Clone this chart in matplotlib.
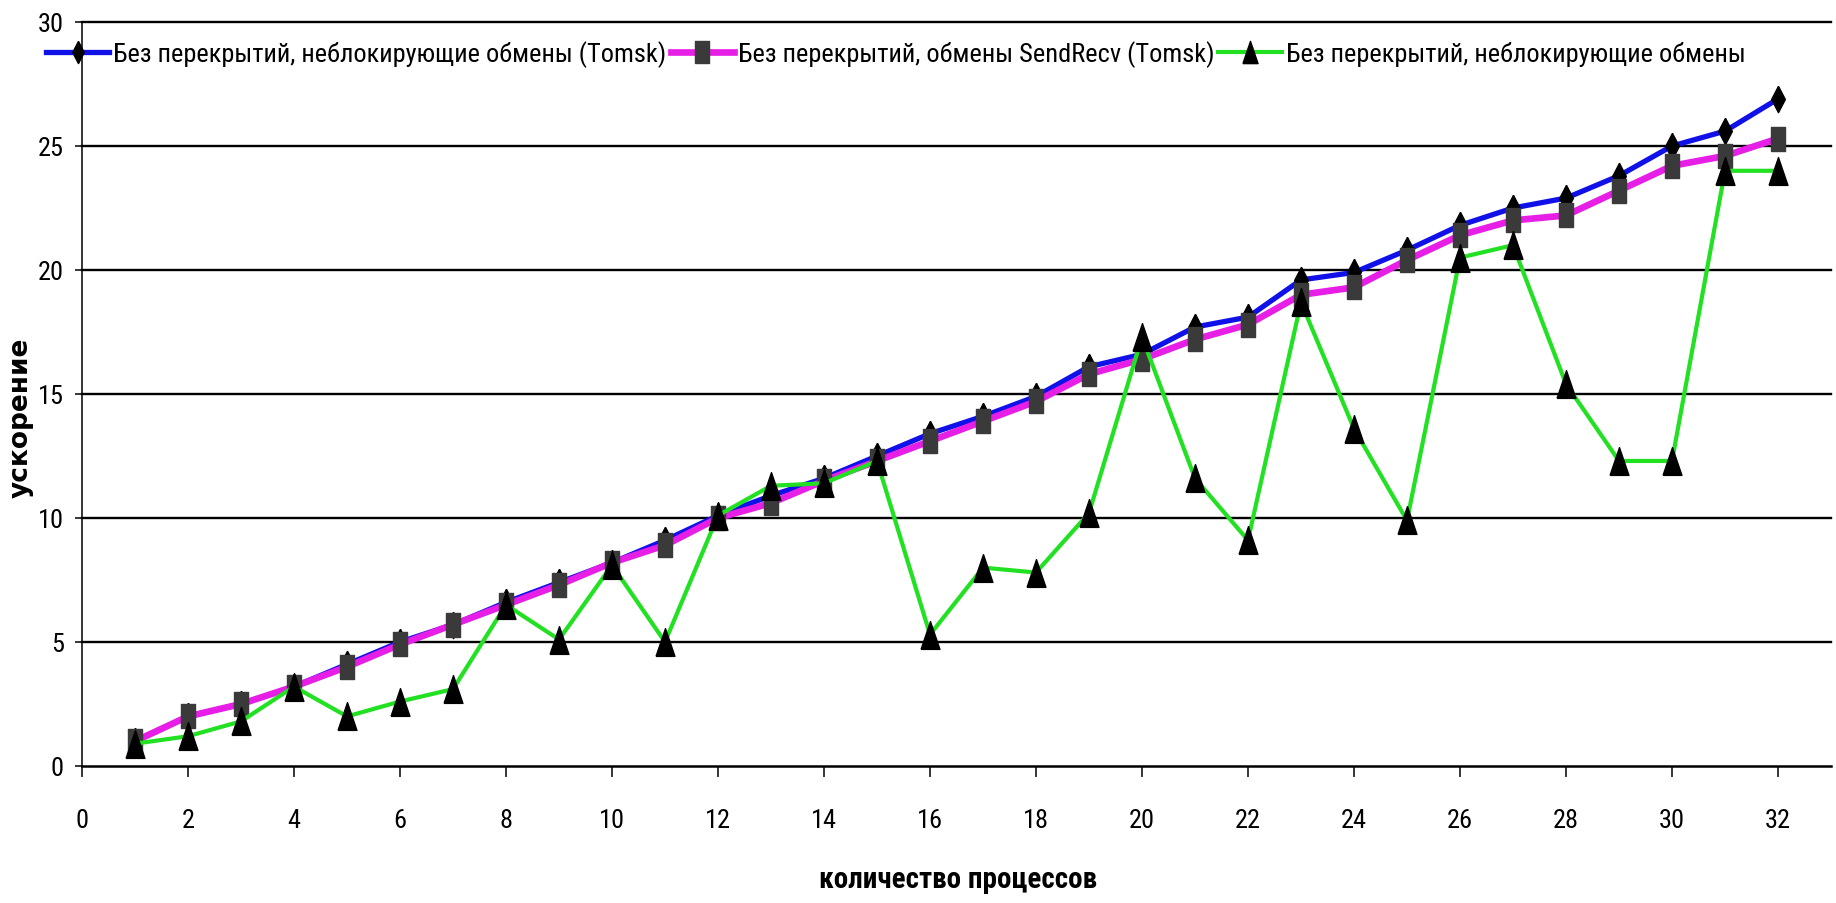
import matplotlib
matplotlib.use("Agg")
from matplotlib import pyplot as plt
from matplotlib import font_manager

# узкий шрифт, если есть; иначе Liberation Sans (метрики Arial)
installed = {f.name for f in font_manager.fontManager.ttflist}
narrow = next((n for n in ['Liberation Sans Narrow', 'Roboto Condensed',
                           'Open Sans Condensed', 'DejaVu Sans Condensed',
                           'Liberation Sans'] if n in installed), 'DejaVu Sans')
NARROW = [narrow, 'DejaVu Sans']
is_narrow = narrow != 'Liberation Sans' and narrow != 'DejaVu Sans'

# количество процессов
procs = list(range(1, 33))

# Без перекрытий, неблокирующие обмены (Tomsk)
nonblock_tomsk = [1.0, 2.0, 2.5, 3.2, 4.1, 5.0, 5.7, 6.6, 7.4, 8.2,
                  9.1, 10.1, 10.9, 11.6, 12.5, 13.4, 14.1, 14.9, 16.1, 16.6,
                  17.7, 18.1, 19.6, 19.9, 20.8, 21.8, 22.5, 22.9, 23.8, 25.0,
                  25.6, 26.9]

# Без перекрытий, обмены SendRecv (Tomsk)
sendrecv_tomsk = [1.0, 2.0, 2.5, 3.2, 4.0, 4.9, 5.7, 6.5, 7.3, 8.2,
                  8.9, 10.0, 10.6, 11.5, 12.3, 13.1, 13.9, 14.7, 15.8, 16.4,
                  17.2, 17.8, 19.0, 19.3, 20.4, 21.4, 22.0, 22.2, 23.2, 24.2,
                  24.6, 25.3]

# Без перекрытий, неблокирующие обмены
nonblock = [0.9, 1.2, 1.8, 3.2, 2.0, 2.6, 3.1, 6.5, 5.1, 8.1,
            5.0, 10.1, 11.3, 11.4, 12.3, 5.3, 8.0, 7.8, 10.2, 17.3,
            11.6, 9.1, 18.7, 13.6, 9.9, 20.5, 21.0, 15.4, 12.3, 12.3,
            24.0, 24.0]

labels = ["Без перекрытий, неблокирующие обмены (Tomsk)",
          "Без перекрытий, обмены SendRecv (Tomsk)",
          "Без перекрытий, неблокирующие обмены"]

x_ticks = list(range(0, 33, 2))
y_ticks = list(range(0, 31, 5))

# вытянутые маркеры как в Excel
diamond = [(0, 0.5), (0.26, 0), (0, -0.5), (-0.26, 0), (0, 0.5)]
rect = [(-0.3, -0.5), (0.3, -0.5), (0.3, 0.5), (-0.3, 0.5), (-0.3, -0.5)]
tri = [(-0.34, -0.5), (0.34, -0.5), (0, 0.5), (-0.34, -0.5)]

tick_fs = 19 if is_narrow else 16
leg_fs = 19 if is_narrow else 16
xlab_fs = 21 if is_narrow else 18

W, H = 1836, 904
fig = plt.figure(figsize=(W / 100, H / 100), dpi=100)
ax = fig.add_axes([82 / W, 137 / H, 1749 / W, 744 / H])

for y in y_ticks[1:]:
    ax.axhline(y, color='black', lw=1.7, zorder=0, clip_on=False)

ax.plot(procs, nonblock_tomsk, color='#1010e8', lw=3.8, marker=diamond,
        markersize=19, markerfacecolor='black', markeredgecolor='black',
        label=labels[0], zorder=2)
ax.plot(procs, sendrecv_tomsk, color='#e61ee6', lw=4.8, marker=rect,
        markersize=17, markerfacecolor='#3a3a3a', markeredgecolor='#3a3a3a',
        label=labels[1], zorder=3)
ax.plot(procs, nonblock, color='#22e022', lw=3.0, marker=tri,
        markersize=20, markerfacecolor='black', markeredgecolor='black',
        label=labels[2], zorder=4)

ax.set_xlim(0, 33)
ax.set_ylim(0, 30)
ax.set_xticks(x_ticks)
ax.set_yticks(y_ticks)
ax.spines['top'].set_visible(False)
ax.spines['right'].set_visible(False)
ax.spines['bottom'].set_linewidth(1.8)
ax.spines['left'].set_linewidth(1.1)
ax.tick_params(axis='x', length=8, width=1.1, pad=22, labelsize=tick_fs)
ax.tick_params(axis='y', length=5, width=1.1, pad=8, labelsize=tick_fs)
for lab in ax.get_xticklabels() + ax.get_yticklabels():
    lab.set_family(NARROW)

fig.text(21 / W, 1 - 418 / H, "ускорение", rotation=90, ha='center',
         va='center', fontsize=19, fontweight='bold', family='DejaVu Sans')
fig.text(958 / W, 1 - 880 / H, "количество процессов", ha='center',
         va='center', fontsize=xlab_fs, fontweight='bold', family=NARROW)

leg = fig.legend(loc='center left', bbox_to_anchor=(46 / W, 1 - 55 / H),
                 ncol=3, frameon=False, handlelength=2.4, handletextpad=0.15,
                 columnspacing=0.15, borderaxespad=0, borderpad=0,
                 prop={'family': NARROW, 'size': leg_fs})
for h in leg.legend_handles:
    h.set_markersize(16)

plt.savefig("out.png", dpi=100)
